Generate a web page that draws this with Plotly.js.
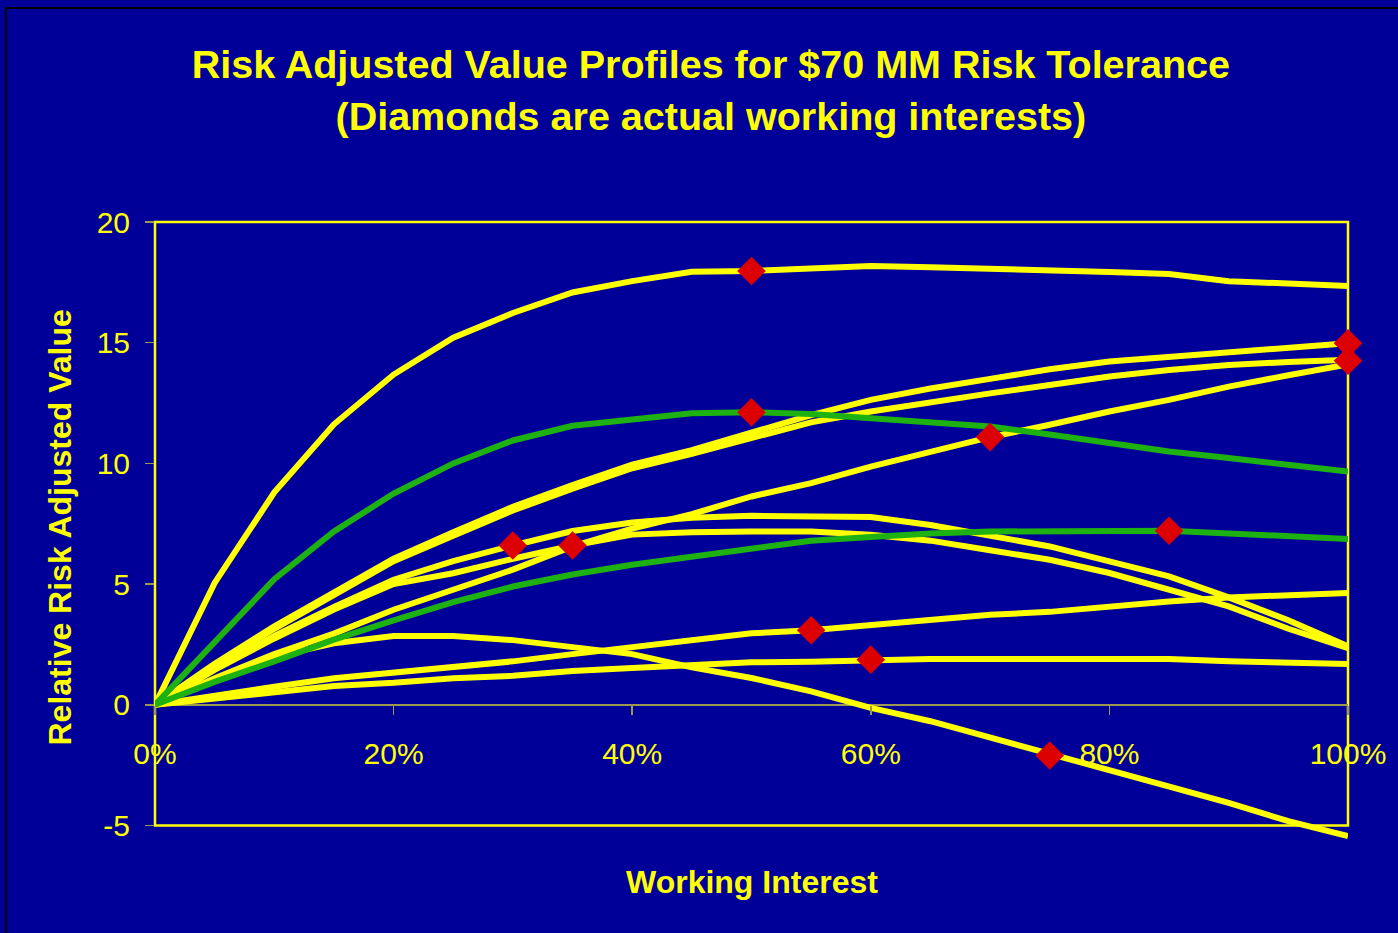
<!DOCTYPE html>
<html><head><meta charset="utf-8">
<script src="https://cdn.plot.ly/plotly-3.0.1.min.js"></script>
<style>
html,body{margin:0;padding:0;background:#000099;overflow:hidden;}
#chart{position:absolute;left:5px;top:7px;width:1391px;height:924px;border-top:2px solid #000;border-left:2px solid #000;}
</style></head><body><div id="chart"></div>
<script>
// Working interest (fraction)
const workingInterest = [0,0.05,0.10,0.15,0.20,0.25,0.30,0.35,0.40,0.45,0.50,0.55,0.60,0.65,0.70,0.75,0.80,0.85,0.90,0.95,1.00];

// Risk adjusted value profiles (yellow)
const profileA = [0,5.05,8.8,11.62,13.68,15.21,16.23,17.08,17.55,17.94,17.97,18.1,18.18,18.13,18.08,18.0,17.93,17.85,17.55,17.45,17.35];
const profileB = [0,1.7,3.25,4.65,6.05,7.15,8.2,9.1,9.95,10.55,11.25,12.0,12.63,13.1,13.5,13.9,14.22,14.42,14.63,14.82,14.98];
const profileC = [0,1.65,3.15,4.55,5.95,7.0,8.05,8.95,9.8,10.4,11.05,11.7,12.15,12.55,12.9,13.25,13.6,13.87,14.08,14.2,14.29];
const profileD = [0,1.1,2.1,2.95,3.94,4.77,5.6,6.56,7.3,7.9,8.63,9.18,9.87,10.48,11.09,11.6,12.15,12.63,13.18,13.65,14.1];
const profileE = [0,1.5,2.85,4.05,5.18,5.95,6.6,7.2,7.55,7.75,7.83,7.83,7.78,7.45,7.0,6.56,5.94,5.32,4.45,3.5,2.42];
const profileF = [0,1.45,2.75,3.95,5.0,5.45,6.05,6.6,7.05,7.15,7.18,7.18,7.04,6.8,6.4,6.01,5.46,4.77,4.08,3.15,2.35];
const profileG = [0,0.4,0.75,1.1,1.32,1.55,1.8,2.1,2.38,2.62,2.96,3.09,3.29,3.52,3.73,3.85,4.08,4.28,4.45,4.56,4.63];
const profileH = [0,0.28,0.52,0.78,0.91,1.1,1.2,1.4,1.53,1.66,1.76,1.78,1.87,1.9,1.9,1.9,1.9,1.9,1.8,1.75,1.69];
const profileI = [0,1.05,2.0,2.55,2.85,2.85,2.68,2.4,2.1,1.55,1.11,0.56,-0.13,-0.68,-1.35,-2.05,-2.7,-3.37,-4.06,-4.82,-5.44];

// Green profiles
const greenUpper = [0,2.6,5.2,7.18,8.75,10.0,10.95,11.56,11.85,12.08,12.12,12.05,11.87,11.7,11.53,11.2,10.84,10.49,10.22,9.95,9.66];
const greenLower = [0,0.95,1.8,2.7,3.5,4.25,4.9,5.4,5.8,6.15,6.5,6.8,6.95,7.1,7.18,7.2,7.2,7.21,7.1,7.0,6.87];

// Diamonds: actual working interests
const diamondX = [0.50,1.00,1.00,0.50,0.70,0.30,0.35,0.55,0.60,0.75,0.85];
const diamondY = [17.97,14.98,14.25,12.12,11.09,6.6,6.6,3.09,1.87,-2.1,7.21];

// Axis settings
const yRange = [-5.6, 20];
const yFrame = [-5, 20];
const yTicks = [-5,0,5,10,15,20];
const yTickText = ['-5','0','5','10','15','20'];
const xTicks = [0,0.2,0.4,0.6,0.8,1.0];

const YELLOW = '#FFFF00';
const GREEN = '#1DB111';
const NAVY = '#000099';
const OLIVE = '#9c9850';
const FONT = 'Liberation Sans, Arial, sans-serif';

const yellowSeries = [profileA, profileB, profileC, profileD, profileE, profileF, profileG, profileH, profileI];
const greenSeries = [greenUpper, greenLower];

const traces = [];
yellowSeries.forEach(s => traces.push({x: workingInterest, y: s, type: 'scatter', mode: 'lines',
  line: {color: YELLOW, width: 6}, hoverinfo: 'skip', showlegend: false}));
greenSeries.forEach(s => traces.push({x: workingInterest, y: s, type: 'scatter', mode: 'lines',
  line: {color: GREEN, width: 6}, hoverinfo: 'skip', showlegend: false}));
traces.push({x: diamondX, y: diamondY, type: 'scatter', mode: 'markers', cliponaxis: false,
  marker: {symbol: 'diamond', size: 22, color: '#DD0000', line: {width: 0}}, hoverinfo: 'skip', showlegend: false});

const ySpan = yRange[1] - yRange[0];
const zeroFrac = (0 - yRange[0]) / ySpan;
const frameBottom = (yFrame[0] - yRange[0]) / ySpan;
const frameTop = (yFrame[1] - yRange[0]) / ySpan;

const layout = {
  width: 1391, height: 924,
  margin: {l: 148, r: 50, t: 213, b: 93},
  paper_bgcolor: NAVY, plot_bgcolor: NAVY,
  showlegend: false,
  title: {
    text: 'Risk Adjusted Value Profiles for $70 MM Risk Tolerance<br>(Diamonds are actual working interests)',
    font: {family: FONT, size: 39.5, color: YELLOW, weight: 700},
    xref: 'container', x: 0.506, xanchor: 'center',
    yref: 'container', y: 0.925, yanchor: 'middle'
  },
  xaxis: {
    range: [0, 1], anchor: 'free', position: zeroFrac,
    tickvals: xTicks, tickformat: '.0%',
    showgrid: false, zeroline: false, showline: false,
    ticks: 'outside', ticklen: 9, tickwidth: 1.5, tickcolor: OLIVE,
    ticklabelstandoff: 13,
    tickfont: {family: FONT, size: 30, color: YELLOW}
  },
  yaxis: {
    range: yRange, tickvals: yTicks, ticktext: yTickText,
    showgrid: false, showline: false,
    zeroline: true, zerolinecolor: OLIVE, zerolinewidth: 2,
    ticks: 'outside', ticklen: 9, tickwidth: 1.5, tickcolor: OLIVE,
    ticklabelstandoff: 9,
    tickfont: {family: FONT, size: 30, color: YELLOW}
  },
  shapes: [{
    type: 'rect', xref: 'paper', yref: 'paper', x0: 0, x1: 1, y0: frameBottom, y1: frameTop,
    line: {color: YELLOW, width: 2.5}, layer: 'below'
  }],
  annotations: [
    {text: 'Working Interest', xref: 'paper', yref: 'paper', x: 0.5, y: -0.068,
     xanchor: 'center', yanchor: 'middle', showarrow: false,
     font: {family: FONT, size: 32, color: YELLOW, weight: 700}},
    {text: 'Relative Risk Adjusted Value', xref: 'paper', yref: 'paper', x: -0.0796, y: 0.5057,
     xanchor: 'center', yanchor: 'middle', textangle: -90, showarrow: false,
     font: {family: FONT, size: 32, color: YELLOW, weight: 700}}
  ]
};

Plotly.newPlot('chart', traces, layout, {displayModeBar: false, staticPlot: true});
</script>
</body></html>
